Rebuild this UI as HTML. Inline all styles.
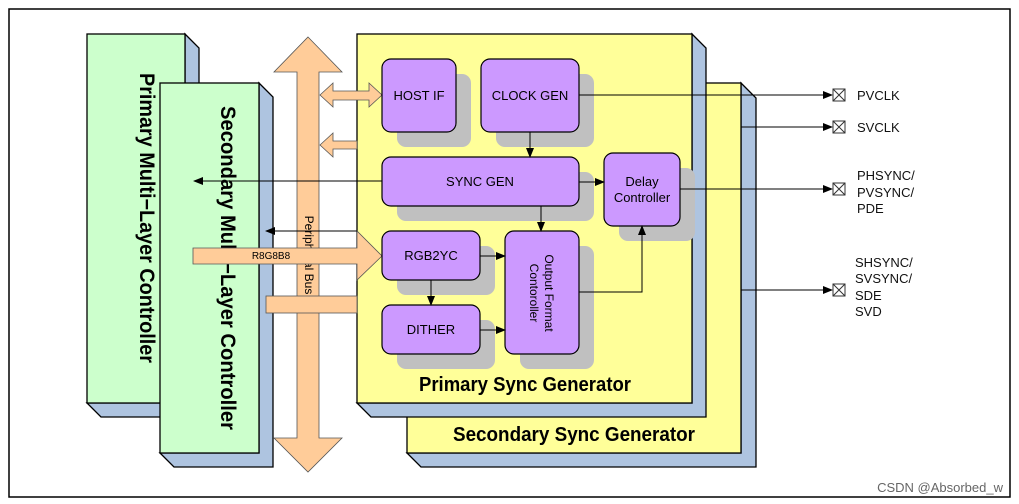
<!DOCTYPE html>
<html><head><meta charset="utf-8"><style>body{margin:0;background:#fff}svg{display:block}</style></head><body>
<svg width="1019" height="504" viewBox="0 0 1019 504" xmlns="http://www.w3.org/2000/svg" font-family="Liberation Sans, sans-serif">
<defs><marker id="a" markerWidth="10" markerHeight="10" refX="9" refY="5" orient="auto" markerUnits="userSpaceOnUse"><path d="M0,1 L10,5 L0,9z" fill="#000"/></marker></defs>
<rect x="9" y="9" width="1001" height="488" fill="#fff" stroke="#000" stroke-width="1.5"/>
<g stroke="#000" stroke-width="1.3">
<path d="M185,34 L199,48 L199,417 L101,417 L87,403 L185,403z" fill="#aec4e0"/>
<rect x="87" y="34" width="98" height="369" fill="#ccffcc"/>
</g>
<text transform="translate(140,218) rotate(90)" font-size="21" font-weight="bold" text-anchor="middle" textLength="290" lengthAdjust="spacingAndGlyphs">Primary Multi−Layer Controller</text>
<g stroke="#000" stroke-width="1.3">
<path d="M259,83 L273,97 L273,467 L174,467 L160,453 L259,453z" fill="#aec4e0"/>
<rect x="160" y="83" width="99" height="370" fill="#ccffcc"/>
</g>
<text transform="translate(221,268) rotate(90)" font-size="21" font-weight="bold" text-anchor="middle" textLength="324" lengthAdjust="spacingAndGlyphs">Secondary Multi−Layer Controller</text>
<g stroke="#000" stroke-width="1.3">
<path d="M741,83 L756,98 L756,467 L421,467 L407,453 L741,453z" fill="#aec4e0"/>
<rect x="407" y="83" width="334" height="370" fill="#ffff99"/>
<path d="M692,34 L706,48 L706,417 L371,417 L357,403 L692,403z" fill="#aec4e0"/>
<rect x="357" y="34" width="335" height="369" fill="#ffff99"/>
</g>
<g fill="#ffcc99" stroke="#555" stroke-width="0.8">
<path d="M308,37 L342,72 L319,72 L319,438 L342,438 L308,472 L274,438 L297,438 L297,72 L274,72z"/>
</g>
<text transform="translate(305,255) rotate(90)" font-size="12" text-anchor="middle">Peripheral Bus</text>
<g fill="#ffcc99" stroke="#555" stroke-width="0.8">
<path d="M320,95 L333,83 L333,91 L369,91 L369,83 L382,95 L369,107 L369,100 L333,100 L333,107z"/>
<path d="M320,145 L333,133 L333,141 L357,141 L357,149 L333,149 L333,157z"/>
<path d="M193,248 L357,248 L357,231 L382,256 L357,280 L357,264 L193,264z"/>
<rect x="266" y="296" width="91" height="17"/>
</g>
<text x="271" y="259" font-size="10" text-anchor="middle">R8G8B8</text>
<g fill="#c0c0c0">
<rect x="397" y="74" width="74" height="73" rx="9"/>
<rect x="496" y="74" width="98" height="73" rx="9"/>
<rect x="397" y="172" width="197" height="49" rx="9"/>
<rect x="619" y="168" width="76" height="73" rx="9"/>
<rect x="397" y="246" width="98" height="49" rx="9"/>
<rect x="397" y="320" width="98" height="49" rx="9"/>
<rect x="520" y="246" width="74" height="123" rx="9"/>
</g>
<g fill="#cc99ff" stroke="#000" stroke-width="1.2">
<rect x="382" y="59" width="74" height="73" rx="9"/>
<rect x="481" y="59" width="98" height="73" rx="9"/>
<rect x="382" y="157" width="197" height="49" rx="9"/>
<rect x="604" y="153" width="76" height="73" rx="9"/>
<rect x="382" y="231" width="98" height="49" rx="9"/>
<rect x="382" y="305" width="98" height="49" rx="9"/>
<rect x="505" y="231" width="74" height="123" rx="9"/>
</g>
<g font-size="13" text-anchor="middle">
<text x="419" y="100">HOST IF</text>
<text x="530" y="100">CLOCK GEN</text>
<text x="480" y="186">SYNC GEN</text>
<text x="642" y="186">Delay</text><text x="642" y="202">Controller</text>
<text x="431" y="260">RGB2YC</text>
<text x="431" y="334">DITHER</text>
<text transform="translate(545,293) rotate(90)" font-size="12">Output Format</text>
<text transform="translate(530,293) rotate(90)" font-size="12">Contoroller</text>
</g>
<text x="525" y="391" font-size="20" font-weight="bold" text-anchor="middle" textLength="212" lengthAdjust="spacingAndGlyphs">Primary Sync Generator</text>
<text x="574" y="441" font-size="20" font-weight="bold" text-anchor="middle" textLength="242" lengthAdjust="spacingAndGlyphs">Secondary Sync Generator</text>
<g stroke="#000" stroke-width="1" fill="none" marker-end="url(#a)">
<path d="M579,95 L832,95"/>
<path d="M741,127 L832,127"/>
<path d="M680,189 L832,189"/>
<path d="M741,290 L832,290"/>
<path d="M382,181 L194,181"/>
<path d="M357,231 L266,231"/>
<path d="M530,132 L530,157"/>
<path d="M579,182 L604,182"/>
<path d="M541,206 L541,231"/>
<path d="M480,256 L505,256"/>
<path d="M431,280 L431,305"/>
<path d="M480,330 L505,330"/>
<path d="M579,292 L642,292 L642,226"/>
</g>
<g stroke="#333" stroke-width="1" fill="#fff">
<g transform="translate(833,89)"><rect width="12" height="12"/><path d="M0,0 L12,12 M12,0 L0,12"/></g>
<g transform="translate(833,121)"><rect width="12" height="12"/><path d="M0,0 L12,12 M12,0 L0,12"/></g>
<g transform="translate(833,183)"><rect width="12" height="12"/><path d="M0,0 L12,12 M12,0 L0,12"/></g>
<g transform="translate(833,284)"><rect width="12" height="12"/><path d="M0,0 L12,12 M12,0 L0,12"/></g>
</g>
<g font-size="13" fill="#111">
<text x="857" y="100">PVCLK</text>
<text x="857" y="132">SVCLK</text>
<text x="857" y="180">PHSYNC/</text>
<text x="857" y="197">PVSYNC/</text>
<text x="857" y="213">PDE</text>
<text x="855" y="267">SHSYNC/</text>
<text x="855" y="283">SVSYNC/</text>
<text x="855" y="300">SDE</text>
<text x="855" y="316">SVD</text>
</g>
<text x="1003" y="492" font-size="13" fill="#666" text-anchor="end">CSDN @Absorbed_w</text>
</svg>
</body></html>
